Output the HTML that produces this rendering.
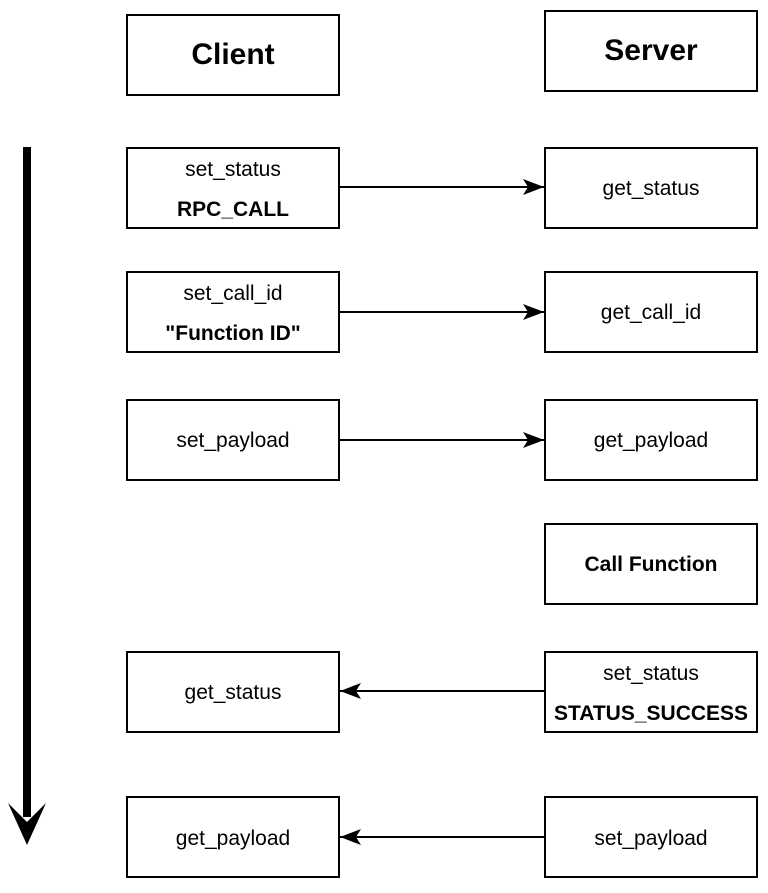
<!DOCTYPE html>
<html><head><meta charset="utf-8"><style>
body{margin:0;background:#fff;}
</style></head><body>
<svg width="768" height="888" xmlns="http://www.w3.org/2000/svg" font-family="Liberation Sans, Arial, sans-serif">
<defs><marker id="a" markerWidth="22" markerHeight="18" refX="21" refY="9" orient="auto" markerUnits="userSpaceOnUse"><path d="M0,1 L21,9 L0,17 L5,9 Z" fill="#000"/></marker></defs>
<g fill="#fff" stroke="#000" stroke-width="2">
<rect x="127" y="15" width="212" height="80"/>
<rect x="545" y="11" width="212" height="80"/>
<rect x="127" y="148" width="212" height="80"/>
<rect x="545" y="148" width="212" height="80"/>
<rect x="127" y="272" width="212" height="80"/>
<rect x="545" y="272" width="212" height="80"/>
<rect x="127" y="400" width="212" height="80"/>
<rect x="545" y="400" width="212" height="80"/>
<rect x="545" y="524" width="212" height="80"/>
<rect x="127" y="652" width="212" height="80"/>
<rect x="545" y="652" width="212" height="80"/>
<rect x="127" y="797" width="212" height="80"/>
<rect x="545" y="797" width="212" height="80"/>
</g>
<g stroke="#000" stroke-width="2">
<line x1="339" y1="187" x2="544" y2="187" marker-end="url(#a)"/>
<line x1="339" y1="312" x2="544" y2="312" marker-end="url(#a)"/>
<line x1="339" y1="440" x2="544" y2="440" marker-end="url(#a)"/>
<line x1="545" y1="691" x2="340" y2="691" marker-end="url(#a)"/>
<line x1="545" y1="837" x2="340" y2="837" marker-end="url(#a)"/>
</g>
<rect x="23" y="147" width="8" height="670" fill="#000"/>
<path d="M8,803 L27,845 L46,803 L27,822 Z" fill="#000"/>
<g text-anchor="middle" font-size="21">
<text x="233" y="64" font-size="30" font-weight="bold">Client</text>
<text x="651" y="60" font-size="30" font-weight="bold">Server</text>
<text x="233" y="176">set_status</text>
<text x="233" y="216" font-weight="bold">RPC_CALL</text>
<text x="651" y="195">get_status</text>
<text x="233" y="300">set_call_id</text>
<text x="233" y="340" font-weight="bold">"Function ID"</text>
<text x="651" y="319">get_call_id</text>
<text x="233" y="447">set_payload</text>
<text x="651" y="447">get_payload</text>
<text x="651" y="571" font-weight="bold">Call Function</text>
<text x="233" y="699">get_status</text>
<text x="651" y="680">set_status</text>
<text x="651" y="720" font-weight="bold">STATUS_SUCCESS</text>
<text x="233" y="845">get_payload</text>
<text x="651" y="845">set_payload</text>
</g>
</svg>
</body></html>
